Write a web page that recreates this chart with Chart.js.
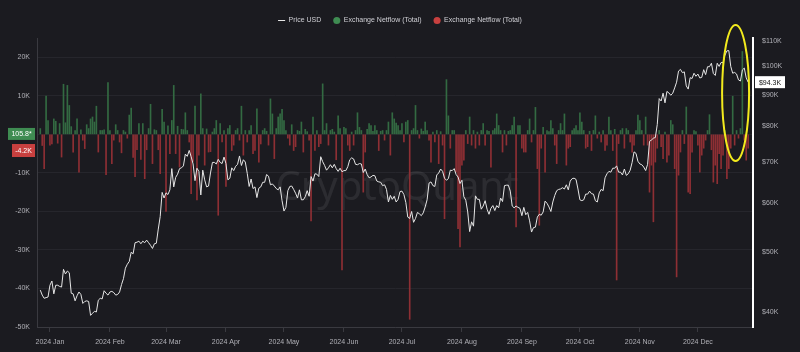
<!DOCTYPE html>
<html>
<head>
<meta charset="utf-8">
<script src="https://cdn.jsdelivr.net/npm/chart.js@4.4.1/dist/chart.umd.min.js"></script>
<style>
  html, body { margin: 0; padding: 0; background: #1b1b20; }
  canvas { display: block; }
</style>
</head>
<body>
<canvas id="chart" width="800" height="352"></canvas>
<script>
// day 0 = 2024-01-01, data runs from 2023-12-27 (day -5) to 2024-12-27
const startDay = -5;

// Exchange netflow (thousand BTC), one value per day
const flowDec23 = [1.5, -2.9, -8.9, 9.9, 3.6];
const flowJan = [-2.8, -2.5, 4.0, 3.4, -2.3, 2.8, -5.9, 13.0, 3.0, 12.7, 7.5, 2.0, -4.6, 1.0, 4.0, -9.8, 1.2, -1.5, -3.7, 2.5, 1.5, 4.0, 4.5, 3.2, 7.3, -4.6, 1.0, 1.0, 1.2, -10.5, 13.4];
const flowFeb = [1.0, -7.6, -1.5, 2.5, 1.0, -2.0, -4.8, 1.0, 0.6, -1.0, 5.0, 6.8, -6.0, -11.0, -4.0, 2.8, -6.5, 2.8, -11.5, -4.0, 1.5, 7.8, -7.6, 1.2, 1.0, -4.0, -10.2, 6.5, 3.2];
const flowMar = [-20.0, 2.2, -5.0, 3.6, 12.7, -5.0, 2.1, -8.5, 1.3, 1.2, 5.6, 1.0, -2.0, -15.4, -7.0, 7.3, -17.0, -5.4, 10.5, 1.5, -8.0, 1.4, -4.6, -4.5, 0.6, 1.5, 3.6, -21.0, 2.8, -2.0, 1.0];
const flowApr = [-13.5, 1.5, 2.3, -4.2, -2.8, 1.0, 1.5, -1.5, 7.3, -5.4, 1.0, -2.0, 1.0, 2.3, -5.0, -4.2, 6.6, -7.2, -2.5, 1.0, 1.5, 0.8, -2.8, 9.2, 5.3, -6.3, 1.5, 4.5, 5.3, 6.5];
const flowMay = [3.6, 1.0, -1.0, -2.8, 2.5, -4.2, -3.2, 1.0, 0.8, 3.2, -4.6, 1.3, 0.7, -1.5, -22.5, 4.5, -4.2, 1.0, -3.2, -2.4, 13.1, 1.0, 2.8, -2.8, 1.0, 1.3, 0.6, -6.6, 4.8, 1.5, -35.2];
const flowJun = [1.8, 1.5, -2.8, -4.2, 0.6, -2.8, 1.0, 5.6, 1.8, 1.0, -15.0, -4.6, 1.3, 2.8, 2.3, 0.8, 2.3, 1.0, -4.2, 0.8, 1.0, -1.5, 1.0, 3.2, -5.4, 5.6, 4.0, 2.9, 2.3, 1.0];
const flowJul = [2.8, -2.0, 3.2, 3.6, -48.0, 1.0, 1.5, 7.5, 1.0, -1.0, 1.4, 0.8, 3.2, 1.0, -1.5, -7.2, 0.6, -2.0, 1.0, -7.6, 0.7, -2.8, -21.9, 14.2, 4.8, -3.6, 1.0, 1.0, -9.8, -24.5, -29.2];
const flowAug = [-8.0, -6.7, 1.0, -2.4, 4.5, -2.8, 1.0, -3.6, 0.6, -2.8, 1.0, 2.8, -2.8, 1.0, 0.8, -8.5, 1.0, 1.5, 5.3, 2.3, 1.0, -4.6, 1.0, -2.8, 0.8, 1.0, 2.3, 4.5, -24.0, 2.3, 2.3];
const flowSep = [-3.6, -4.6, -4.6, 1.0, 4.0, -2.0, 1.0, 7.0, -8.9, -23.6, -3.6, 1.8, -9.8, 1.0, 0.7, 3.6, 1.5, -2.8, -7.6, 1.0, 2.8, 1.0, 5.3, -8.0, -3.6, -3.2, 1.0, 1.5, 2.3, 1.0];
const flowOct = [5.6, 3.2, 1.0, -3.6, -3.2, 0.8, -4.2, 1.0, 4.8, -1.0, 0.6, -2.0, 1.0, -4.2, -2.8, 4.5, 1.0, -4.2, 1.3, -37.8, -2.4, 1.0, 1.5, -3.6, 1.5, 1.0, -2.0, -4.6, -2.8, 1.0, 5.0];
const flowNov = [3.6, 1.0, -2.8, 4.5, -2.8, -15.0, -8.0, -22.7, -7.2, -3.6, 1.0, -3.2, -6.3, 0.6, -7.2, -5.4, 3.6, 2.5, -8.9, -37.0, -10.6, -4.6, 1.0, -2.4, 7.1, -15.0, -15.4, -4.6, 1.0, 0.7];
const flowDec = [-2.8, -9.8, -5.4, -3.6, -1.5, 1.0, 5.1, -4.0, -12.4, -8.0, -12.8, -5.0, -8.9, -5.4, 1.0, -11.5, -8.9, -3.6, 9.9, -2.8, 1.0, -1.0, 1.5, 21.5, -1.5, -6.7, -3.6];

// BTC price (thousand USD), one value per day
const priceDec23 = [43.4, 42.6, 42.1, 42.2, 42.3];
const priceJan = [44.2, 44.9, 42.8, 44.2, 44.2, 44.0, 43.9, 46.9, 46.1, 46.6, 46.3, 42.9, 42.8, 41.7, 42.5, 43.1, 42.7, 41.3, 41.6, 41.7, 41.6, 39.5, 39.8, 40.1, 40.0, 41.8, 42.1, 42.0, 43.3, 42.9, 42.6];
const priceFeb = [43.1, 43.2, 43.0, 42.6, 42.7, 43.1, 44.3, 45.3, 47.1, 47.8, 48.3, 50.0, 49.7, 51.8, 51.9, 52.1, 51.6, 52.1, 51.8, 52.3, 51.8, 51.3, 50.7, 51.6, 51.7, 54.5, 57.1, 62.5, 61.2];
const priceMar = [62.4, 62.0, 63.1, 68.3, 63.8, 66.1, 66.9, 68.3, 68.5, 69.0, 72.1, 71.5, 73.1, 71.4, 69.5, 65.3, 68.4, 67.6, 61.9, 67.9, 65.5, 63.8, 64.0, 67.2, 69.9, 69.9, 69.5, 70.7, 69.9, 69.6, 71.3];
const priceApr = [69.6, 65.5, 65.9, 68.5, 67.8, 68.9, 69.4, 71.6, 69.1, 70.6, 70.0, 67.1, 63.9, 65.7, 63.4, 63.8, 61.3, 63.5, 63.8, 64.9, 64.9, 66.8, 66.4, 64.3, 64.5, 64.0, 63.4, 63.1, 63.8, 60.6];
const priceMay = [58.3, 59.1, 62.9, 63.9, 64.0, 63.2, 62.3, 61.2, 63.1, 60.8, 60.8, 61.5, 62.9, 61.6, 66.3, 65.2, 67.0, 66.9, 66.3, 71.4, 70.1, 69.1, 67.9, 68.5, 69.3, 68.5, 69.4, 68.3, 67.6, 68.4, 67.5];
const priceJun = [67.8, 67.8, 68.8, 70.6, 71.1, 70.8, 69.4, 69.3, 69.6, 69.5, 67.3, 68.2, 66.8, 66.0, 66.2, 66.6, 66.5, 65.2, 65.0, 64.9, 64.1, 64.3, 63.2, 60.3, 61.8, 60.9, 61.6, 60.3, 60.9, 62.7];
const priceJul = [62.8, 62.0, 60.2, 57.0, 56.7, 58.2, 55.9, 56.7, 58.0, 57.7, 57.3, 57.9, 59.2, 60.8, 64.7, 65.0, 64.1, 63.9, 66.7, 67.2, 68.2, 67.6, 65.9, 65.4, 65.8, 67.9, 67.8, 68.3, 66.8, 66.2, 64.6];
const priceAug = [65.4, 61.5, 60.7, 58.1, 54.0, 56.0, 55.1, 61.7, 60.9, 60.9, 58.7, 59.4, 60.6, 58.7, 57.6, 58.9, 59.5, 58.4, 59.5, 59.0, 61.2, 60.4, 64.1, 64.2, 64.2, 62.8, 59.4, 59.0, 59.4, 59.1, 58.9];
const priceSep = [57.3, 59.1, 57.5, 58.0, 56.2, 53.9, 54.8, 54.9, 57.0, 57.6, 57.4, 58.1, 60.5, 60.0, 59.2, 58.2, 60.3, 61.8, 62.9, 63.2, 63.3, 63.6, 63.3, 64.3, 63.1, 65.2, 65.8, 65.9, 65.6, 63.3];
const priceOct = [60.8, 60.6, 60.8, 62.1, 62.1, 62.8, 62.2, 62.1, 60.6, 60.3, 62.4, 63.2, 62.9, 66.0, 67.0, 67.6, 67.4, 68.4, 68.4, 69.0, 67.4, 67.4, 66.7, 68.2, 66.6, 67.0, 67.9, 69.9, 72.7, 72.3, 70.2];
const priceNov = [69.5, 69.3, 68.7, 67.8, 69.4, 75.6, 76.0, 76.5, 76.7, 80.5, 88.7, 87.9, 90.5, 87.3, 91.1, 90.6, 89.8, 90.5, 92.3, 94.3, 98.3, 98.9, 97.7, 98.0, 93.0, 91.9, 95.9, 95.6, 97.5, 96.4];
const priceDec = [97.2, 95.8, 96.0, 98.8, 97.0, 99.9, 99.9, 101.2, 97.4, 96.7, 101.2, 100.0, 101.5, 101.4, 104.3, 106.0, 106.1, 100.0, 97.5, 97.8, 97.2, 95.1, 94.7, 98.7, 99.4, 95.8, 94.3];

// 軸の目盛り
const monthStarts = [0, 31, 60, 91, 121, 152, 182, 213, 244, 274, 305, 335];
const monthLabels = ['2024 Jan', '2024 Feb', '2024 Mar', '2024 Apr', '2024 May', '2024 Jun', '2024 Jul', '2024 Aug', '2024 Sep', '2024 Oct', '2024 Nov', '2024 Dec'];
const flowTicks = [-50, -40, -30, -20, -10, 0, 10, 20];
const priceTicks = [40, 50, 60, 70, 80, 90, 100, 110];

// 右端の現在値ラベル
const lastInflowLabel = '105.8*';
const lastInflowValue = 0.1058;
const lastOutflowLabel = '-4.2K';
const lastOutflowValue = -4.2;
const lastPriceLabel = '$94.3K';
const lastPriceValue = 94.3;

const netflow = [].concat(flowDec23, flowJan, flowFeb, flowMar, flowApr, flowMay, flowJun, flowJul, flowAug, flowSep, flowOct, flowNov, flowDec);
const price = [].concat(priceDec23, priceJan, priceFeb, priceMar, priceApr, priceMay, priceJun, priceJul, priceAug, priceSep, priceOct, priceNov, priceDec);

const inflowPts = [];
const outflowPts = [];
netflow.forEach((v, i) => {
  const p = { x: startDay + i, y: v };
  if (v >= 0) inflowPts.push(p); else outflowPts.push(p);
});
const pricePts = price.map((v, i) => ({ x: startDay + i, y: v }));

const FONT = '"Liberation Sans", Arial, sans-serif';
Chart.defaults.font.family = FONT;
Chart.defaults.font.size = 7;
Chart.defaults.color = '#b0b0b6';

// 背景
const bgPlugin = {
  id: 'bg',
  beforeDraw(chart) {
    const ctx = chart.ctx;
    ctx.save();
    ctx.fillStyle = '#1b1b20';
    ctx.fillRect(0, 0, chart.width, chart.height);
    ctx.restore();
  }
};

// 凡例を少し上へ
const legendShift = {
  id: 'legendShift',
  afterLayout(chart) {
    if (chart.legend) {
      chart.legend.top -= 4;
      chart.legend.bottom -= 4;
    }
  }
};

// ウォーターマーク
const watermark = {
  id: 'watermark',
  beforeDatasetsDraw(chart) {
    const { ctx, chartArea: a } = chart;
    ctx.save();
    ctx.font = '40px "Noto Sans", sans-serif';
    ctx.fillStyle = 'rgba(255,255,255,0.08)';
    ctx.textAlign = 'center';
    ctx.textBaseline = 'middle';
    ctx.fillText('CryptoQuant', (a.left + a.right) / 2 + 2, a.top + (a.bottom - a.top) * 0.52);
    ctx.restore();
  }
};

// 現在値タグと黄色い楕円
const markers = {
  id: 'markers',
  afterDraw(chart) {
    const { ctx, chartArea: a, scales } = chart;
    const tag = (xRight, yMid, w, h, bg, fg, text, alignLeft) => {
      const x = alignLeft ? xRight : xRight - w;
      ctx.fillStyle = bg;
      ctx.fillRect(x, yMid - h / 2, w, h);
      ctx.fillStyle = fg;
      ctx.font = '7px ' + FONT;
      ctx.textAlign = 'center';
      ctx.textBaseline = 'middle';
      ctx.fillText(text, x + w / 2, yMid + 0.5);
    };
    ctx.save();
    tag(a.left - 2, scales.y.getPixelForValue(lastInflowValue), 27, 12, '#3f8c52', '#ffffff', lastInflowLabel);
    tag(a.left - 2, scales.y.getPixelForValue(lastOutflowValue), 23, 13, '#c8403f', '#ffffff', lastOutflowLabel);
    tag(a.right + 2, scales.y2.getPixelForValue(lastPriceValue), 30, 12, '#ffffff', '#111111', lastPriceLabel, true);

    ctx.strokeStyle = '#f2ea1d';
    ctx.lineWidth = 2;
    ctx.beginPath();
    ctx.ellipse(scales.x.getPixelForValue(354.5), scales.y2.getPixelForValue(90.6), 13.5, 68, 0, 0, Math.PI * 2);
    ctx.stroke();
    ctx.restore();
  }
};

new Chart(document.getElementById('chart'), {
  type: 'bar',
  data: {
    datasets: [
      {
        type: 'line',
        label: 'Price USD',
        data: pricePts,
        yAxisID: 'y2',
        borderColor: '#e6e6e6',
        backgroundColor: '#e6e6e6',
        borderWidth: 1,
        pointRadius: 0,
        pointStyle: 'line',
        tension: 0,
        order: 0
      },
      {
        label: 'Exchange Netflow (Total)',
        data: inflowPts,
        yAxisID: 'y',
        backgroundColor: '#336a42',
        borderWidth: 0,
        barThickness: 1,
        grouped: false,
        order: 1
      },
      {
        label: 'Exchange Netflow (Total)',
        data: outflowPts,
        yAxisID: 'y',
        backgroundColor: '#8e2f34',
        borderWidth: 0,
        barThickness: 1,
        grouped: false,
        order: 2
      }
    ]
  },
  options: {
    responsive: false,
    animation: false,
    layout: { padding: { top: 0, left: 0, right: 0, bottom: 0 } },
    plugins: {
      tooltip: { enabled: false },
      legend: {
        labels: {
          usePointStyle: true,
          boxHeight: 5,
          padding: 12,
          color: '#cfcfd4',
          font: { size: 7 },
          generateLabels: chart => {
            const items = Chart.defaults.plugins.legend.labels.generateLabels(chart);
            // 凡例の丸は明るめの色
            items.forEach(it => {
              if (it.datasetIndex === 1) it.fillStyle = '#3f8c52';
              if (it.datasetIndex === 2) it.fillStyle = '#c8403f';
            });
            return items;
          }
        }
      }
    },
    scales: {
      x: {
        type: 'linear',
        min: -6.7,
        max: 363.5,
        offset: false,
        afterBuildTicks: axis => {
          axis.ticks = monthStarts.map(v => ({ value: v }));
        },
        afterFit: axis => { axis.height = 25; },
        ticks: {
          autoSkip: false,
          maxRotation: 0,
          padding: 6,
          color: '#b0b0b6',
          callback: (v, i) => monthLabels[i]
        },
        grid: { offset: false, drawOnChartArea: false, color: '#3a3a40', tickLength: 5 },
        border: { color: '#3a3a40', width: 1 }
      },
      y: {
        position: 'left',
        min: -50,
        max: 25,
        afterBuildTicks: axis => {
          axis.ticks = flowTicks.map(v => ({ value: v }));
        },
        afterFit: axis => {
          axis.width = 37;
          axis.paddingTop = 38;
        },
        ticks: {
          padding: 7,
          color: '#b0b0b6',
          callback: v => (v === 0 ? '0' : v + 'K')
        },
        grid: { color: '#26262c', drawTicks: false },
        border: { color: '#3a3a40', width: 1 }
      },
      y2: {
        type: 'logarithmic',
        position: 'right',
        min: 37.82,
        max: 111.2,
        afterBuildTicks: axis => {
          axis.ticks = priceTicks.map(v => ({ value: v }));
        },
        afterFit: axis => { axis.width = 47; },
        ticks: {
          padding: 9,
          color: '#b0b0b6',
          callback: v => '$' + v + 'K'
        },
        grid: { drawOnChartArea: false, drawTicks: false },
        border: { color: '#ffffff', width: 2 }
      }
    }
  },
  plugins: [bgPlugin, legendShift, watermark, markers]
});
</script>
</body>
</html>
